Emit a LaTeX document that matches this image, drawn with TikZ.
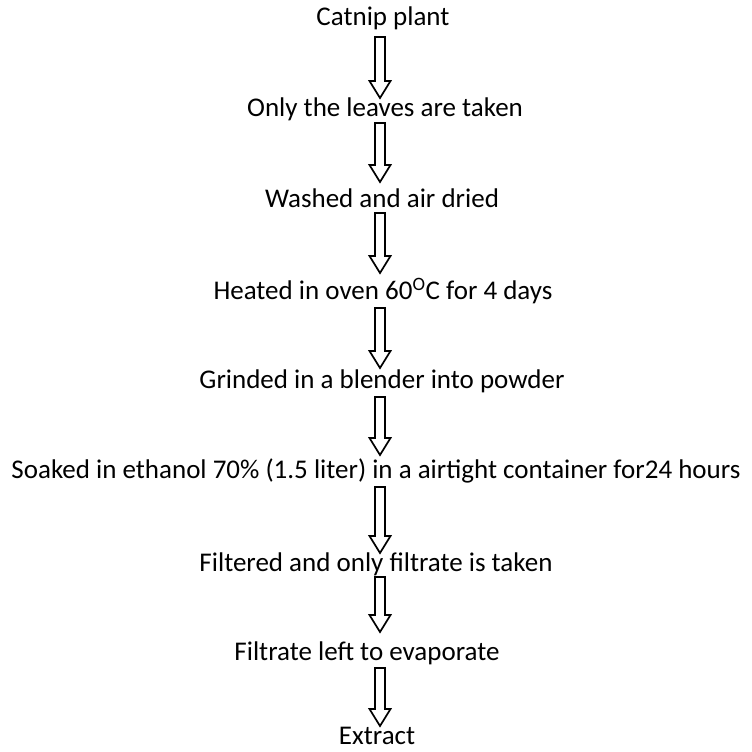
\documentclass[tikz,border=0pt]{standalone}
\usepackage{fontspec}
\setmainfont{Carlito}
\usetikzlibrary{calc}
\tikzset{
  lbl/.style={inner sep=0pt, anchor=center, font=\fontsize{27}{32}\selectfont},
  blockarr/.style={draw=black, line width=1.7pt, fill=white, line join=miter}
}
\newcommand{\blockarrow}[2]{%
  \draw[blockarr] ($(#1)+(-5,0)$) -- ($(#1)+(5,0)$) -- ($(#2)+(5,-17)$) -- ($(#2)+(10.5,-17)$)
    -- (#2) -- ($(#2)+(-10.5,-17)$) -- ($(#2)+(-5,-17)$) -- cycle;}
\begin{document}
\begin{tikzpicture}[x=1pt,y=-1pt]
\useasboundingbox (0,0) rectangle (752,752);
\node[lbl] (n1) at (383,18) {Catnip plant};
\node[lbl] (n2) at (385,109) {Only the leaves are taken};
\node[lbl] (n3) at (382,198) {Washed and air dried};
\node[lbl] (n4) at (383,291) {Heated in oven 60\textsuperscript{O}C for 4 days};
\node[lbl] (n5) at (382,381) {Grinded in a blender into powder};
\node[lbl] (n6) at (376,471) {Soaked in ethanol 70\% (1.5 liter) in a airtight container for24 hours};
\node[lbl] (n7) at (376,564) {Filtered and only filtrate is taken};
\node[lbl] (n8) at (367,653) {Filtrate left to evaporate};
\node[lbl] (n9) at (377,736) {Extract};
\coordinate (a1t) at (380,37);  \coordinate (a1b) at (380,98);
\coordinate (a2t) at (380,123); \coordinate (a2b) at (380,182);
\coordinate (a3t) at (380,213); \coordinate (a3b) at (380,273);
\coordinate (a4t) at (380,308); \coordinate (a4b) at (380,368);
\coordinate (a5t) at (380,397); \coordinate (a5b) at (380,455);
\coordinate (a6t) at (380,487); \coordinate (a6b) at (380,553);
\coordinate (a7t) at (380,577); \coordinate (a7b) at (380,632);
\coordinate (a8t) at (380,668); \coordinate (a8b) at (380,726);
\blockarrow{a1t}{a1b}
\blockarrow{a2t}{a2b}
\blockarrow{a3t}{a3b}
\blockarrow{a4t}{a4b}
\blockarrow{a5t}{a5b}
\blockarrow{a6t}{a6b}
\blockarrow{a7t}{a7b}
\blockarrow{a8t}{a8b}
\end{tikzpicture}
\end{document}
